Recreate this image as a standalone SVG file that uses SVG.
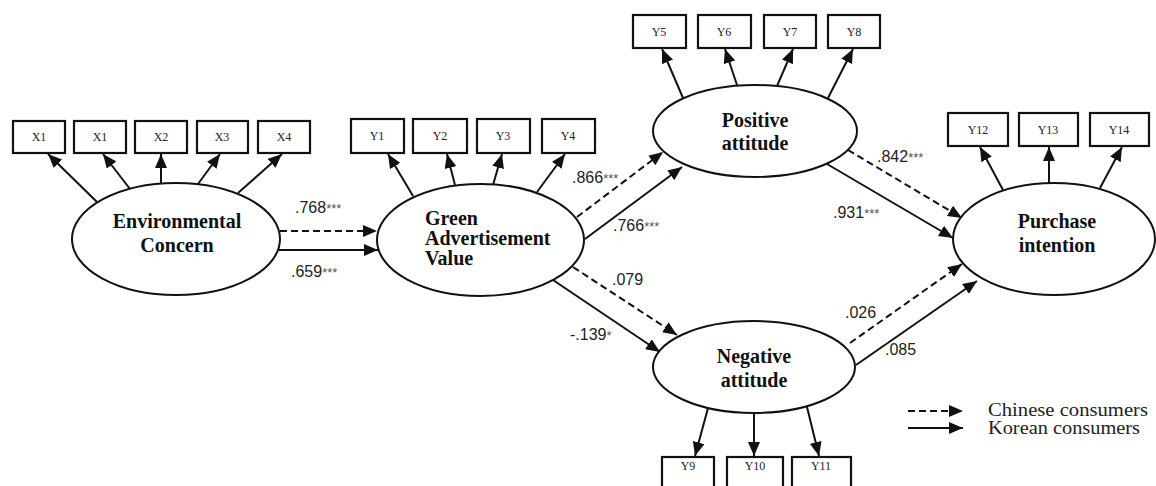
<svg xmlns="http://www.w3.org/2000/svg" width="1156" height="486" viewBox="0 0 1156 486">
<style>
.bg{fill:#fff}
.box{fill:#fff;stroke:#111;stroke-width:2.2}
.bt{font-family:"Liberation Serif",serif;font-size:12px;fill:#222;text-anchor:middle}
.ell{fill:#fff;stroke:#111;stroke-width:2}
.nt{font-family:"Liberation Serif",serif;font-size:20px;font-weight:bold;fill:#111;text-anchor:middle}
.nl{font-family:"Liberation Serif",serif;font-size:20px;font-weight:bold;fill:#111}
.ind{stroke:#111;stroke-width:2;fill:none;marker-end:url(#ah)}
.sol{stroke:#111;stroke-width:2;fill:none;marker-end:url(#ah)}
.dsh{stroke:#111;stroke-width:2;fill:none;stroke-dasharray:7 4;marker-end:url(#ah)}
.lb{font-family:"Liberation Sans",sans-serif;font-size:16px;fill:#222}
.st{font-size:13px;fill:#555}
.lg{font-family:"Liberation Serif",serif;font-size:18px;fill:#222}
</style>
<defs>
<marker id="ah" markerUnits="userSpaceOnUse" markerWidth="14" markerHeight="12" refX="14" refY="6" orient="auto">
<path d="M0,0 L14,6 L0,12 z" fill="#111"/>
</marker>
</defs>
<rect class="bg" x="0" y="0" width="1156" height="486"/>

<g id="connectors">
<line class="ind" x1="97" y1="202" x2="48" y2="154"/>
<line class="ind" x1="130" y1="189" x2="103" y2="154"/>
<line class="ind" x1="161" y1="183" x2="161" y2="154"/>
<line class="ind" x1="198" y1="184" x2="220" y2="154"/>
<line class="ind" x1="238" y1="193" x2="282" y2="154"/>
<line class="ind" x1="413" y1="196" x2="388" y2="154"/>
<line class="ind" x1="455" y1="185" x2="447" y2="154"/>
<line class="ind" x1="493" y1="185" x2="502" y2="154"/>
<line class="ind" x1="537" y1="192" x2="565" y2="154"/>
<line class="ind" x1="683" y1="98" x2="662" y2="49"/>
<line class="ind" x1="737" y1="85" x2="725" y2="49"/>
<line class="ind" x1="777" y1="86" x2="793" y2="49"/>
<line class="ind" x1="828" y1="98" x2="853" y2="49"/>
<line class="ind" x1="1003" y1="190" x2="980" y2="147"/>
<line class="ind" x1="1049" y1="183" x2="1049" y2="147"/>
<line class="ind" x1="1100" y1="188" x2="1122" y2="147"/>
<line class="ind" x1="708" y1="408" x2="695" y2="456"/>
<line class="ind" x1="754" y1="413" x2="754" y2="456"/>
<line class="ind" x1="807" y1="407" x2="819" y2="456"/>
<line class="dsh" x1="280" y1="231" x2="377" y2="231"/>
<line class="sol" x1="279" y1="250" x2="378" y2="250"/>
<line class="dsh" x1="577" y1="217" x2="663" y2="152"/>
<line class="sol" x1="585" y1="239" x2="682" y2="167"/>
<line class="dsh" x1="573" y1="267" x2="677" y2="335"/>
<line class="sol" x1="553" y1="280" x2="660" y2="352"/>
<line class="dsh" x1="848" y1="150" x2="962" y2="218"/>
<line class="sol" x1="827" y1="164" x2="953" y2="238"/>
<line class="dsh" x1="850" y1="343" x2="962" y2="264"/>
<line class="sol" x1="856" y1="365" x2="977" y2="281"/>
</g>

<g id="edge-labels">
<text class="lb" x="295" y="213">.768<tspan class="st">***</tspan></text>
<text class="lb" x="291" y="277">.659<tspan class="st">***</tspan></text>
<text class="lb" x="572" y="183">.866<tspan class="st">***</tspan></text>
<text class="lb" x="613" y="231">.766<tspan class="st">***</tspan></text>
<text class="lb" x="612" y="285">.079</text>
<text class="lb" x="570" y="340">-.139<tspan class="st">*</tspan></text>
<text class="lb" x="877" y="162">.842<tspan class="st">***</tspan></text>
<text class="lb" x="833" y="218">.931<tspan class="st">***</tspan></text>
<text class="lb" x="845" y="318">.026</text>
<text class="lb" x="885" y="355">.085</text>
</g>

<g id="env-concern">
<ellipse class="ell" cx="176" cy="239" rx="104" ry="56"/>
<text class="nt" x="177" y="228">Environmental</text>
<text class="nt" x="177" y="252">Concern</text>
</g>
<g id="green-ad-value">
<ellipse class="ell" cx="480.5" cy="240" rx="103.5" ry="56"/>
<text class="nl" x="425" y="225">Green</text>
<text class="nl" x="425" y="245">Advertisement</text>
<text class="nl" x="425" y="265">Value</text>
</g>
<g id="positive-attitude">
<ellipse class="ell" cx="755" cy="131" rx="102" ry="46"/>
<text class="nt" x="755" y="127">Positive</text>
<text class="nt" x="755" y="150">attitude</text>
</g>
<g id="negative-attitude">
<ellipse class="ell" cx="754" cy="367" rx="101" ry="46"/>
<text class="nt" x="754" y="363">Negative</text>
<text class="nt" x="754" y="387">attitude</text>
</g>
<g id="purchase-intention">
<ellipse class="ell" cx="1054" cy="239" rx="101" ry="56"/>
<text class="nt" x="1057" y="228">Purchase</text>
<text class="nt" x="1057" y="252">intention</text>
</g>

<g id="x1a"><rect class="box" x="13" y="121" width="52" height="32"/><text class="bt" x="39" y="141">X1</text></g>
<g id="x1b"><rect class="box" x="74" y="121" width="52" height="32"/><text class="bt" x="100" y="141">X1</text></g>
<g id="x2"><rect class="box" x="135" y="121" width="52" height="32"/><text class="bt" x="161" y="141">X2</text></g>
<g id="x3"><rect class="box" x="197" y="121" width="51" height="32"/><text class="bt" x="222" y="141">X3</text></g>
<g id="x4"><rect class="box" x="258" y="121" width="52" height="32"/><text class="bt" x="284" y="141">X4</text></g>

<g id="y1"><rect class="box" x="351" y="119" width="53" height="34"/><text class="bt" x="377" y="140">Y1</text></g>
<g id="y2"><rect class="box" x="413" y="119" width="54" height="34"/><text class="bt" x="440" y="140">Y2</text></g>
<g id="y3"><rect class="box" x="477" y="119" width="53" height="34"/><text class="bt" x="503" y="140">Y3</text></g>
<g id="y4"><rect class="box" x="542" y="119" width="53" height="34"/><text class="bt" x="568" y="140">Y4</text></g>

<g id="y5"><rect class="box" x="633" y="15" width="53" height="33"/><text class="bt" x="659" y="36">Y5</text></g>
<g id="y6"><rect class="box" x="698" y="15" width="53" height="33"/><text class="bt" x="724" y="36">Y6</text></g>
<g id="y7"><rect class="box" x="764" y="15" width="52" height="33"/><text class="bt" x="790" y="36">Y7</text></g>
<g id="y8"><rect class="box" x="828" y="15" width="52" height="33"/><text class="bt" x="854" y="36">Y8</text></g>

<g id="y12"><rect class="box" x="948" y="113" width="60" height="33"/><text class="bt" x="978" y="134">Y12</text></g>
<g id="y13"><rect class="box" x="1019" y="113" width="59" height="33"/><text class="bt" x="1048" y="134">Y13</text></g>
<g id="y14"><rect class="box" x="1090" y="113" width="59" height="33"/><text class="bt" x="1119" y="134">Y14</text></g>

<g id="y9"><rect class="box" x="662" y="457" width="52" height="34"/><text class="bt" x="688" y="470">Y9</text></g>
<g id="y10"><rect class="box" x="727" y="457" width="56" height="34"/><text class="bt" x="755" y="470">Y10</text></g>
<g id="y11"><rect class="box" x="792" y="457" width="59" height="34"/><text class="bt" x="821" y="470">Y11</text></g>

<g id="legend">
<line class="dsh" x1="908" y1="411" x2="963" y2="411"/>
<line class="sol" x1="908" y1="428" x2="963" y2="428"/>
<text class="lg" x="988" y="416" textLength="160" lengthAdjust="spacingAndGlyphs">Chinese consumers</text>
<text class="lg" x="988" y="434" textLength="152" lengthAdjust="spacingAndGlyphs">Korean consumers</text>
</g>
</svg>
